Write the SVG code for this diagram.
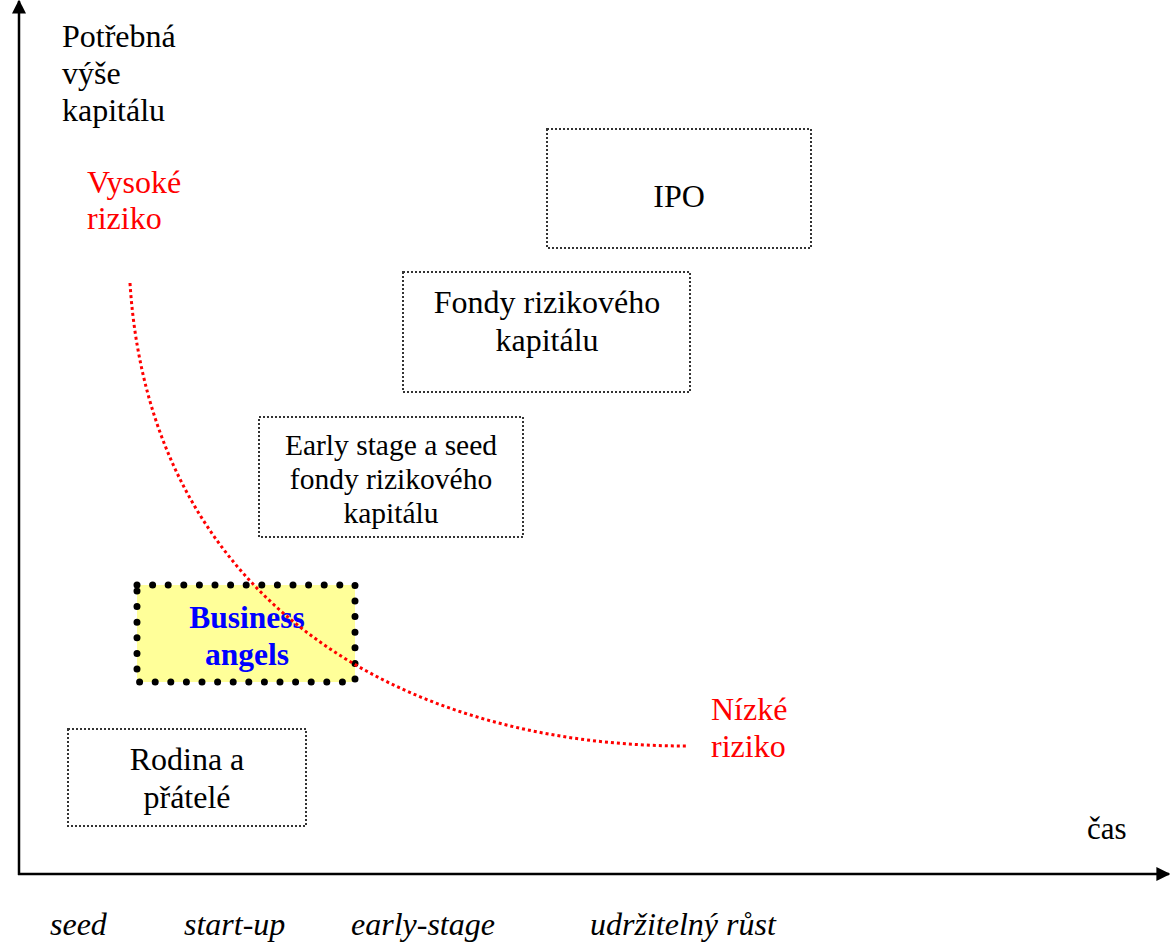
<svg xmlns="http://www.w3.org/2000/svg" width="1170" height="942" viewBox="0 0 1170 942">
<style>
text{font-family:"Liberation Serif","Times New Roman",serif;font-size:32px;fill:#000}
.c{text-anchor:middle}
.red{fill:#ff0000}
.it{font-style:italic}
.box{fill:#fff;stroke:#333;stroke-width:2;stroke-dasharray:2 2}
.ba{fill:#ffff99;stroke:#000;stroke-width:7;stroke-linecap:round;stroke-dasharray:0 15.6}
.bat{font-weight:bold;fill:#0000ff}
.axis{stroke:#000;stroke-width:2.5;fill:none}
</style>
<defs>
<marker id="ah" viewBox="0 0 10 10" refX="9" refY="5" markerWidth="8.5" markerHeight="5.6" markerUnits="strokeWidth" orient="auto">
<path d="M0,0 L10,5 L0,10 z" fill="#000"/>
</marker>
</defs>
<g id="labels">
<text x="62" y="47">Potřebná</text>
<text x="62" y="84">výše</text>
<text x="62" y="121">kapitálu</text>
<text class="red" x="87" y="193">Vysoké</text>
<text class="red" x="87" y="229">riziko</text>
<text class="red" x="711" y="720">Nízké</text>
<text class="red" x="711" y="757">riziko</text>
<text x="1087" y="839" style="font-size:31px">čas</text>
<text class="it" x="50" y="935">seed</text>
<text class="it" x="184" y="935">start-up</text>
<text class="it" x="351" y="935">early-stage</text>
<text class="it" x="590" y="935">udržitelný růst</text>
</g>
<g id="ipo">
<rect class="box" x="547" y="129" width="264" height="119"/>
<text class="c" x="679" y="207">IPO</text>
</g>
<g id="fondy">
<rect class="box" x="403" y="272" width="287" height="120"/>
<text class="c" x="547" y="313">Fondy rizikového</text>
<text class="c" x="547" y="351">kapitálu</text>
</g>
<g id="early">
<rect class="box" x="259" y="417" width="264" height="120"/>
<text class="c" x="391" y="455" style="font-size:29.5px">Early stage a seed</text>
<text class="c" x="391" y="489" style="font-size:29.5px">fondy rizikového</text>
<text class="c" x="391" y="523" style="font-size:29.5px">kapitálu</text>
</g>
<g id="business-angels">
<rect class="ba" x="137" y="585" width="218" height="97"/>
<text class="c bat" x="247" y="628" style="font-size:31.5px">Business</text>
<text class="c bat" x="247" y="665" style="font-size:31.5px">angels</text>
</g>
<g id="rodina">
<rect class="box" x="68" y="729" width="238" height="97"/>
<text class="c" x="187" y="770">Rodina a</text>
<text class="c" x="187" y="808">přátelé</text>
</g>
<g id="connectors">
<line class="axis" x1="19" y1="875" x2="19" y2="1" marker-end="url(#ah)"/>
<line class="axis" x1="18" y1="874" x2="1169" y2="874" marker-end="url(#ah)"/>
<path d="M130,283 C150,600 400,746 686,746" fill="none" stroke="#ff0000" stroke-width="3" stroke-dasharray="3 3"/>
</g>
</svg>
